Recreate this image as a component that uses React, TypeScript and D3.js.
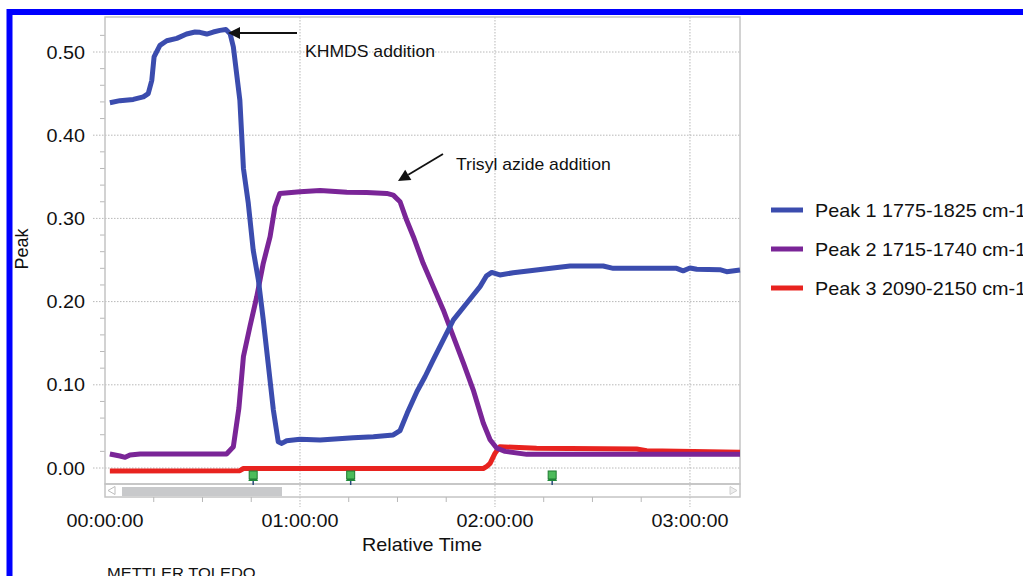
import React, { useEffect, useRef } from 'react';
import * as d3 from 'd3';

// time in minutes, value in peak units
const peak1 = [
  [1.5, 0.439], [4.6, 0.4415], [8.7, 0.443], [11.8, 0.446], [13.3, 0.45], [14.4, 0.466],
  [15.1, 0.494], [16.9, 0.508], [19.0, 0.5135], [22.1, 0.5164], [25.1, 0.5216], [27.7, 0.524],
  [29.2, 0.5236], [31.3, 0.5216], [33.3, 0.524], [35.4, 0.526], [37.2, 0.527], [38.5, 0.522],
  [39.5, 0.506], [41.5, 0.442], [42.6, 0.36], [44.1, 0.318], [45.6, 0.262], [47.2, 0.226],
  [48.7, 0.178], [50.2, 0.126], [51.8, 0.07], [53.3, 0.0316], [54.4, 0.0296], [55.9, 0.0328],
  [60.0, 0.0345], [66.2, 0.0337], [76.4, 0.0365], [82.6, 0.0377], [88.7, 0.0397], [90.8, 0.045],
  [93.0, 0.066], [96.0, 0.092], [98.5, 0.11], [101.0, 0.13], [104.1, 0.154], [107.2, 0.178],
  [111.3, 0.198], [115.4, 0.218], [117.4, 0.231], [119.0, 0.235], [121.5, 0.232], [125.6, 0.2347],
  [130.8, 0.237], [135.9, 0.2395], [143.1, 0.2428], [153.3, 0.2428], [156.4, 0.24], [166.7, 0.24],
  [175.9, 0.24], [177.9, 0.237], [180.0, 0.2404], [182.1, 0.2388], [189.2, 0.2384], [191.3, 0.236],
  [195.4, 0.238],
];

const peak2 = [
  [1.5, 0.0168], [4.6, 0.0144], [6.2, 0.0128], [7.7, 0.0156], [10.8, 0.0168], [37.4, 0.0168],
  [39.5, 0.0256], [41.2, 0.072], [42.6, 0.134], [44.6, 0.17], [46.7, 0.206], [48.7, 0.246],
  [50.8, 0.278], [52.3, 0.314], [53.8, 0.33], [60.0, 0.332], [66.2, 0.3334], [74.4, 0.3314],
  [80.5, 0.331], [86.7, 0.33], [88.7, 0.328], [90.8, 0.32], [92.8, 0.298], [94.9, 0.278],
  [97.9, 0.246], [101.0, 0.218], [104.1, 0.19], [107.2, 0.158], [110.3, 0.126], [113.3, 0.094],
  [116.4, 0.054], [118.5, 0.034], [120.5, 0.024], [123.1, 0.02], [129.8, 0.0164], [195.4, 0.0164],
];

const peak3 = [
  [1.5, -0.0036], [41.5, -0.0032], [42.6, -0.0006], [116.4, -0.0006], [117.5, 0.002],
  [118.5, 0.0056], [120.0, 0.0176], [121.5, 0.0256], [125.6, 0.0248], [132.8, 0.0236],
  [163.6, 0.0228], [166.7, 0.0208], [195.4, 0.019],
];

const seriesNames = ['Peak 1 1775-1825 cm-1', 'Peak 2 1715-1740 cm-1', 'Peak 3 2090-2150 cm-1'];
const seriesColors = ['#3b4cae', '#7a2597', '#e8231f'];

const yTicks = [0, 0.1, 0.2, 0.3, 0.4, 0.5];
const xTicks = [0, 60, 120, 180];
const xTickLabels = ['00:00:00', '01:00:00', '02:00:00', '03:00:00'];
const markerTimes = [45.6, 75.6, 137.6];

const App = () => {
  const svgRef = useRef(null);

  useEffect(() => {
    const svg = d3.select(svgRef.current);
    svg.selectAll('*').remove();

    const W = 1023, H = 576;
    const left = 105, right = 740, top = 17, bottom = 484;
    const sx = 1.1; // the source text is a bit wider than Arial

    const x = d3.scaleLinear().domain([0, 195.4]).range([left, right]);
    const y = d3.scaleLinear().domain([-16 / 832, 0.5 + 35 / 832]).range([bottom, top]);

    svg.append('rect').attr('width', W).attr('height', H).attr('fill', '#fff');

    const txt = (g, tx, ty, s, size, anchor = 'start') =>
      g.append('text')
        .attr('transform', `translate(${tx},${ty}) scale(${sx},1)`)
        .attr('text-anchor', anchor)
        .style('font-family', '"Liberation Sans", Arial, sans-serif')
        .style('font-size', size + 'px')
        .attr('fill', '#111')
        .text(s);

    // blue frame
    svg.append('path')
      .attr('d', `M9.5,${H + 10} V12 H${W + 10}`)
      .attr('fill', 'none')
      .attr('stroke', '#0000ff')
      .attr('stroke-width', 6);

    // gridlines
    const grid = svg.append('g').attr('stroke', '#b8b8b8').attr('stroke-dasharray', '1.5,1.5');
    grid.selectAll('line.h').data(yTicks).enter().append('line')
      .attr('x1', 93).attr('x2', right)
      .attr('y1', d => y(d)).attr('y2', d => y(d));
    grid.selectAll('line.v').data(xTicks.slice(1)).enter().append('line')
      .attr('x1', d => x(d)).attr('x2', d => x(d))
      .attr('y1', top).attr('y2', 507);

    // minor y ticks
    const minor = d3.range(0, 0.53, 0.02).filter(v => Math.abs(v * 10 - Math.round(v * 10)) > 0.01);
    svg.append('g').selectAll('line').data(minor).enter().append('line')
      .attr('x1', 100).attr('x2', left)
      .attr('y1', d => y(d)).attr('y2', d => y(d))
      .attr('stroke', '#b8b8b8');

    // plot frame
    svg.append('rect')
      .attr('x', left).attr('y', top).attr('width', right - left).attr('height', bottom - top)
      .attr('fill', 'none').attr('stroke', '#c4c4c4').attr('stroke-width', 1.5);

    // scrollbar
    svg.append('rect')
      .attr('x', left).attr('y', bottom).attr('width', right - left).attr('height', 13)
      .attr('fill', 'none').attr('stroke', '#c4c4c4').attr('stroke-width', 1.5);
    svg.append('rect')
      .attr('x', 122).attr('y', 487).attr('width', 160).attr('height', 9)
      .attr('fill', '#c8c9cb');
    svg.append('path').attr('d', 'M108,490.5 L115,486.5 L115,494.5 Z')
      .attr('fill', 'none').attr('stroke', '#bcbcbc');
    svg.append('path').attr('d', 'M737,490.5 L730,486.5 L730,494.5 Z')
      .attr('fill', '#eee').attr('stroke', '#d0d0d0');

    // x ticks under scrollbar
    svg.append('g').selectAll('line').data(d3.range(15, 195, 15).filter(m => m % 60 !== 0))
      .enter().append('line')
      .attr('x1', d => x(d)).attr('x2', d => x(d))
      .attr('y1', 497).attr('y2', 502)
      .attr('stroke', '#b8b8b8');

    // series
    const line = d3.line().x(d => x(d[0])).y(d => y(d[1]));
    const data = [peak1, peak2, peak3];
    [2, 1, 0].forEach(i => {
      svg.append('path')
        .datum(data[i])
        .attr('d', line)
        .attr('fill', 'none')
        .attr('stroke', seriesColors[i])
        .attr('stroke-width', 5)
        .attr('stroke-linejoin', 'round');
    });

    // event markers
    markerTimes.forEach(t => {
      const cx = x(t);
      const m = svg.append('g');
      m.append('line').attr('x1', cx).attr('x2', cx).attr('y1', 478).attr('y2', 485)
        .attr('stroke', '#2a4a7a').attr('stroke-width', 1.5);
      m.append('path').attr('d', `M${cx - 5},481 L${cx + 5},481 L${cx + 3},478 L${cx - 3},478 Z`)
        .attr('fill', '#1f8a3a');
      m.append('rect').attr('x', cx - 4).attr('y', 471).attr('width', 8).attr('height', 8)
        .attr('fill', '#4cbb5a').attr('stroke', '#1f7a30');
    });

    // tick labels
    yTicks.forEach(v => txt(svg, 85, y(v) + 6.5, d3.format('.2f')(v), 18, 'end'));
    xTicks.forEach((v, i) => txt(svg, x(v), 527, xTickLabels[i], 18, 'middle'));

    // axis titles
    txt(svg, 422, 551, 'Relative Time', 18, 'middle');
    svg.append('text')
      .attr('transform', 'translate(28,249) rotate(-90)')
      .attr('text-anchor', 'middle')
      .style('font-family', '"Liberation Sans", Arial, sans-serif')
      .style('font-size', '18px')
      .attr('fill', '#111')
      .text('Peak');
    txt(svg, 107, 578, 'METTLER TOLEDO', 15);

    // legend
    seriesNames.forEach((name, i) => {
      const ly = 210 + i * 39;
      svg.append('line').attr('x1', 771).attr('x2', 803).attr('y1', ly).attr('y2', ly)
        .attr('stroke', seriesColors[i]).attr('stroke-width', 5);
      txt(svg, 815, ly + 6.5, name, 18);
    });

    // annotations
    const arrow = (x1, y1, x2, y2) => {
      const a = Math.atan2(y2 - y1, x2 - x1);
      const len = 12, w = 6;
      const bx = x2 - len * Math.cos(a), by = y2 - len * Math.sin(a);
      svg.append('line').attr('x1', x1).attr('y1', y1).attr('x2', bx).attr('y2', by)
        .attr('stroke', '#111').attr('stroke-width', 1.8);
      const px = -Math.sin(a) * w, py = Math.cos(a) * w;
      svg.append('path')
        .attr('d', `M${x2},${y2} L${bx + px},${by + py} L${bx - px},${by - py} Z`)
        .attr('fill', '#111');
    };
    arrow(297, 33, 228, 33);
    txt(svg, 305, 57, 'KHMDS addition', 16);
    arrow(443, 154, 398, 181);
    txt(svg, 456, 170, 'Trisyl azide addition', 16);
  }, []);

  return (
    <svg
      ref={svgRef}
      width={1023}
      height={576}
      style={{ position: 'absolute', left: 0, top: 0, display: 'block' }}
    />
  );
};

export default App;
